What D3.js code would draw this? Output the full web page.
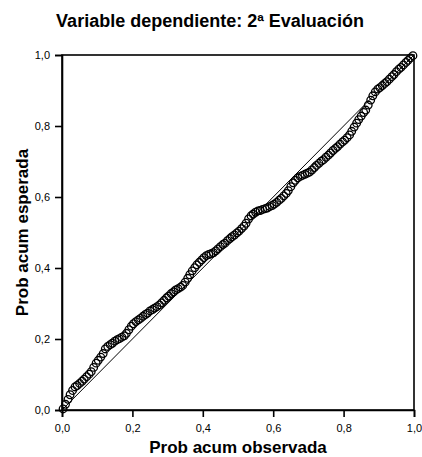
<!DOCTYPE html>
<html>
<head>
<meta charset="utf-8">
<script src="https://cdn.jsdelivr.net/npm/d3@7"></script>
<style>
  html, body { margin: 0; padding: 0; background: #fff; }
  svg { display: block; font-family: "Liberation Sans", Arial, sans-serif; }
</style>
</head>
<body>
<svg id="chart" width="422" height="457"></svg>
<script>
// Observed cumulative probability (x) for each case
const observed = [
  0.003, 0.010, 0.017, 0.023, 0.030, 0.037, 0.043, 0.050, 0.057, 0.063,
  0.070, 0.077, 0.083, 0.090, 0.097, 0.103, 0.110, 0.117, 0.123, 0.130,
  0.137, 0.143, 0.150, 0.157, 0.163, 0.170, 0.177, 0.183, 0.190, 0.197,
  0.203, 0.210, 0.217, 0.223, 0.230, 0.237, 0.243, 0.250, 0.257, 0.263,
  0.270, 0.277, 0.283, 0.290, 0.297, 0.303, 0.310, 0.317, 0.323, 0.330,
  0.337, 0.343, 0.350, 0.357, 0.363, 0.370, 0.377, 0.383, 0.390, 0.397,
  0.403, 0.410, 0.417, 0.423, 0.430, 0.437, 0.443, 0.450, 0.457, 0.463,
  0.470, 0.477, 0.483, 0.490, 0.497, 0.503, 0.510, 0.517, 0.523, 0.530,
  0.537, 0.543, 0.550, 0.557, 0.563, 0.570, 0.577, 0.583, 0.590, 0.597,
  0.603, 0.610, 0.617, 0.623, 0.630, 0.637, 0.643, 0.650, 0.657, 0.663,
  0.670, 0.677, 0.683, 0.690, 0.697, 0.703, 0.710, 0.717, 0.723, 0.730,
  0.737, 0.743, 0.750, 0.757, 0.763, 0.770, 0.777, 0.783, 0.790, 0.797,
  0.803, 0.810, 0.817, 0.823, 0.830, 0.837, 0.843, 0.850, 0.857, 0.863,
  0.870, 0.877, 0.883, 0.890, 0.897, 0.903, 0.910, 0.917, 0.923, 0.930,
  0.937, 0.943, 0.950, 0.957, 0.963, 0.970, 0.977, 0.983, 0.990, 0.997
];
// Expected cumulative probability (y) under the normal distribution
const expected = [
  0.003, 0.016, 0.030, 0.043, 0.055, 0.065, 0.069, 0.075, 0.081, 0.087,
  0.094, 0.101, 0.108, 0.120, 0.132, 0.140, 0.149, 0.159, 0.172, 0.179,
  0.184, 0.188, 0.194, 0.198, 0.201, 0.205, 0.209, 0.216, 0.226, 0.236,
  0.243, 0.249, 0.254, 0.258, 0.264, 0.269, 0.273, 0.279, 0.283, 0.287,
  0.291, 0.296, 0.302, 0.309, 0.316, 0.321, 0.328, 0.333, 0.338, 0.342,
  0.346, 0.351, 0.360, 0.371, 0.381, 0.392, 0.401, 0.409, 0.416, 0.423,
  0.429, 0.435, 0.438, 0.440, 0.443, 0.448, 0.454, 0.460, 0.466, 0.470,
  0.477, 0.483, 0.488, 0.493, 0.499, 0.504, 0.511, 0.518, 0.526, 0.538,
  0.547, 0.552, 0.557, 0.561, 0.562, 0.565, 0.567, 0.569, 0.573, 0.576,
  0.580, 0.585, 0.591, 0.596, 0.603, 0.610, 0.618, 0.629, 0.640, 0.647,
  0.654, 0.658, 0.661, 0.664, 0.667, 0.670, 0.676, 0.683, 0.689, 0.695,
  0.701, 0.705, 0.712, 0.718, 0.724, 0.731, 0.737, 0.742, 0.749, 0.755,
  0.760, 0.767, 0.775, 0.785, 0.797, 0.808, 0.818, 0.828, 0.838, 0.845,
  0.859, 0.873, 0.885, 0.896, 0.904, 0.908, 0.914, 0.920, 0.925, 0.932,
  0.939, 0.945, 0.953, 0.960, 0.965, 0.972, 0.979, 0.985, 0.992, 0.998
];
const tickValues = [0, 0.2, 0.4, 0.6, 0.8, 1.0];
const tickLabels = ["0,0", "0,2", "0,4", "0,6", "0,8", "1,0"];
const chartTitle = "Variable dependiente: 2ª Evaluación";
const xTitle = "Prob acum observada";
const yTitle = "Prob acum esperada";

const svg = d3.select("#chart");
const plotLeft = 62, plotRight = 414, plotTop = 55, plotBottom = 410;

const x = d3.scaleLinear().domain([0, 1]).range([plotLeft, plotRight]);
const y = d3.scaleLinear().domain([0, 1]).range([plotBottom, plotTop]);

const fmt = v => tickLabels[tickValues.indexOf(v)];

// Plot frame
svg.append("rect")
  .attr("x", plotLeft).attr("y", plotTop)
  .attr("width", plotRight - plotLeft).attr("height", plotBottom - plotTop)
  .attr("fill", "none").attr("stroke", "#000").attr("stroke-width", 1.6);

// Reference diagonal
svg.append("line")
  .attr("x1", x(0)).attr("y1", y(0))
  .attr("x2", x(1)).attr("y2", y(1))
  .attr("stroke", "#000").attr("stroke-width", 1);

// Axes
const xAxis = d3.axisBottom(x).tickValues(tickValues).tickFormat(fmt)
  .tickSize(7).tickPadding(7);
const yAxis = d3.axisLeft(y).tickValues(tickValues).tickFormat(fmt)
  .tickSize(7).tickPadding(5);

const gx = svg.append("g").attr("transform", `translate(0,${plotBottom})`).call(xAxis);
const gy = svg.append("g").attr("transform", `translate(${plotLeft},0)`).call(yAxis);
[gx, gy].forEach(g => {
  g.select(".domain").attr("stroke", "#000").attr("stroke-width", 1.6);
  g.selectAll(".tick line").attr("stroke", "#000").attr("stroke-width", 1.6);
  g.selectAll(".tick text").attr("fill", "#000")
    .style("font-size", "11px").style("font-family", "'Liberation Sans', Arial, sans-serif");
});

// Points
const pts = observed.map((o, i) => ({ o, e: expected[i] }));
svg.append("g").selectAll("circle").data(pts).enter().append("circle")
  .attr("cx", d => x(d.o)).attr("cy", d => y(d.e))
  .attr("r", 3.8)
  .attr("fill", "none").attr("stroke", "#000").attr("stroke-width", 1.3);

// Titles
svg.append("text")
  .attr("x", 210).attr("y", 27)
  .attr("text-anchor", "middle")
  .style("font-weight", "bold").style("font-size", "18px")
  .text(chartTitle);

svg.append("text")
  .attr("x", (plotLeft + plotRight) / 2).attr("y", 453)
  .attr("text-anchor", "middle")
  .style("font-weight", "bold").style("font-size", "17px")
  .text(xTitle);

svg.append("text")
  .attr("transform", `translate(28,${(plotTop + plotBottom) / 2}) rotate(-90)`)
  .attr("text-anchor", "middle")
  .style("font-weight", "bold").style("font-size", "17px")
  .text(yTitle);
</script>
</body>
</html>
